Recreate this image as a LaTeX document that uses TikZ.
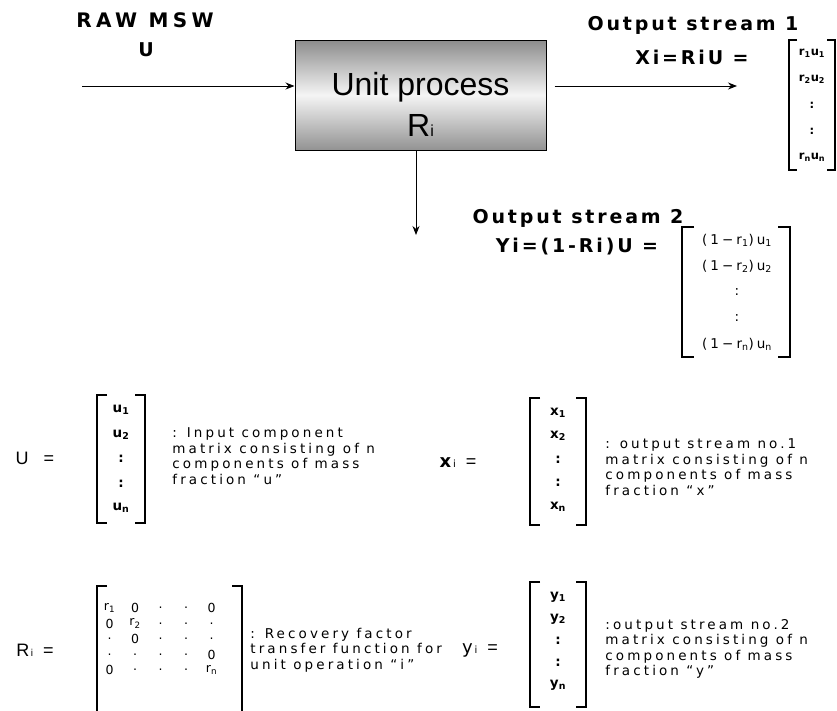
\documentclass[tikz,border=0pt]{standalone}
\usepackage{fontspec}
\setmainfont{Liberation Sans}
\newfontfamily\headfont[LetterSpace=15]{DejaVu Sans}
\newfontfamily\rawfont[LetterSpace=22]{DejaVu Sans}
\newfontfamily\descfont[LetterSpace=23]{DejaVu Sans}
\newfontfamily\entfont{DejaVu Sans}
\usetikzlibrary{positioning,arrows.meta}
\tikzset{%
  unit box/.style={
    draw,
    line width=1pt,
    minimum width=251pt,
    minimum height=110pt,
    top color=gray!90, bottom color=gray!85, middle color=gray!8
  },
  unit text/.style={inner sep=0pt, align=center, font=\fontsize{32}{41}\selectfont},
  head/.style={inner sep=0pt, font=\headfont\bfseries\fontsize{19}{22}\selectfont},
  wide head/.style={inner sep=0pt, font=\rawfont\bfseries\fontsize{20}{22}\selectfont},
  desc/.style={inner sep=0pt, anchor=west, align=left,
    font=\descfont\fontsize{13.5}{15.5}\selectfont},
  symb/.style={inner sep=0pt, font=\fontsize{18}{20}\selectfont},
  entry/.style={inner sep=0pt, font=\entfont\bfseries\fontsize{13.5}{14}\selectfont},
  small entry/.style={inner sep=0pt, font=\entfont\bfseries\fontsize{11.5}{12}\selectfont},
  wide entry/.style={inner sep=0pt, font=\descfont\fontsize{13.5}{14}\selectfont},
  r entry/.style={inner sep=0pt, font=\entfont\fontsize{12.5}{13}\selectfont},
  brack/.style={line width=1.6pt},
}
\newcommand\vbrack[5]{%
  \draw[brack] (#1+#5,#2) -| (#1,#4) -- ++(#5,0);
  \draw[brack] (#3-#5,#2) -| (#3,#4) -- ++(-#5,0);}
\newcommand\ix[1]{\textsubscript{#1}}

\begin{document}
\begin{tikzpicture}[x=1pt, y=-1pt, >={Stealth[length=9pt,width=7pt]}, line width=0.9pt]
    \useasboundingbox (0,0) rectangle (837,710);

    % process block and its streams
    \node [unit box] (unit) at (420.5,95) {};
    \node [unit text] (unit-name) at (420.5,104) {Unit process\\R{\fontsize{16}{16}\selectfont i}};
    \node [wide head] (raw) at (145,20) {RAW MSW};
    \node [head] (raw-u) at (146,50) {U};
    \coordinate (feed) at (82,86);
    \draw [->] (feed) -- (feed -| unit.west);
    \coordinate (out1) at (737,86);
    \draw [->, shorten <=8pt] (out1 -| unit.east) -- (out1);
    \coordinate (out2) at (416,235);
    \draw [->] (out2 |- unit.south) -- (out2);

    % output stream 1
    \node [head] (os1) at (693,25) {Output stream 1};
    \node [head] (x-eq) at (692,57) {Xi=RiU =};
    \vbrack{789}{40}{835}{170}{8}
    \foreach \e [count=\i] in {{r\ix{1}u\ix{1}},{r\ix{2}u\ix{2}},:,:,{r\ix{n}u\ix{n}}}
      \node [small entry] (xs-\i) at (812,27+26*\i) {\e};

    % output stream 2
    \node [head] (os2) at (578,218) {Output stream 2};
    \node [head] (y-eq) at (577,247) {Yi=(1-Ri)U =};
    \vbrack{682}{227}{790}{357}{12}
    \foreach \e [count=\i] in {{(1−r\ix{1})u\ix{1}},{(1−r\ix{2})u\ix{2}},:,:,{(1−r\ix{n})u\ix{n}}}
      \node [wide entry] (ys-\i) at (737,214+26*\i) {\e};

    % input matrix U
    \node [symb] (u-lab) at (35,458) {U\hspace{15pt}=};
    \vbrack{97}{395}{145}{523}{10}
    \foreach \e [count=\i] in {{u\ix{1}},{u\ix{2}},:,:,{u\ix{n}}}
      \node [entry] (u-\i) at (121,385.5+24.5*\i) {\e};
    \node [desc] (u-txt) at (172,456) {: Input component\\matrix consisting of n\\components of mass\\fraction “u”};

    % stream matrix x
    \node [symb] (x-lab) at (458,463) {{\entfont\bfseries x{\mdseries\fontsize{10}{10}\selectfont\,i}}\hspace{10pt}=};
    \vbrack{530}{398}{586}{525}{10}
    \foreach \e [count=\i] in {{x\ix{1}},{x\ix{2}},:,:,{x\ix{n}}}
      \node [entry] (x-\i) at (558,389+23.5*\i) {\e};
    \node [desc] (x-txt) at (605,467) {: output stream no.1\\matrix consisting of n\\components of mass\\fraction “x”};

    % recovery factor matrix R
    \node [symb] (r-lab) at (35,650) {R{\fontsize{10}{10}\selectfont\,i}\hspace{10pt}=};
    \vbrack{97}{586}{242}{716}{10}
    \foreach \row [count=\j] in {{r\ix{1},0,{.},{.},0},{0,r\ix{2},{.},{.},{.}},{{.},0,{.},{.},{.}},{{.},{.},{.},{.},0},{0,{.},{.},{.},r\ix{n}}}
      \foreach \e [count=\i] in \row
        \node [r entry] (r-\j-\i) at (84+25.5*\i,592.5+15.5*\j) {\e};
    \node [desc] (r-txt) at (250,650) {: Recovery factor\\transfer function for\\unit operation “i”};

    % stream matrix y
    \node [symb] (y-lab) at (480,650) {{\entfont y{\fontsize{10}{10}\selectfont\,i}}\hspace{10pt}=};
    \vbrack{530}{582}{586}{707}{10}
    \foreach \e [count=\i] in {{y\ix{1}},{y\ix{2}},:,:,{y\ix{n}}}
      \node [entry] (y-\i) at (558,575+22*\i) {\e};
    \node [desc] (y-txt) at (605,649) {:output stream no.2\\matrix consisting of n\\components of mass\\fraction “y”};

\end{tikzpicture}
\end{document}
